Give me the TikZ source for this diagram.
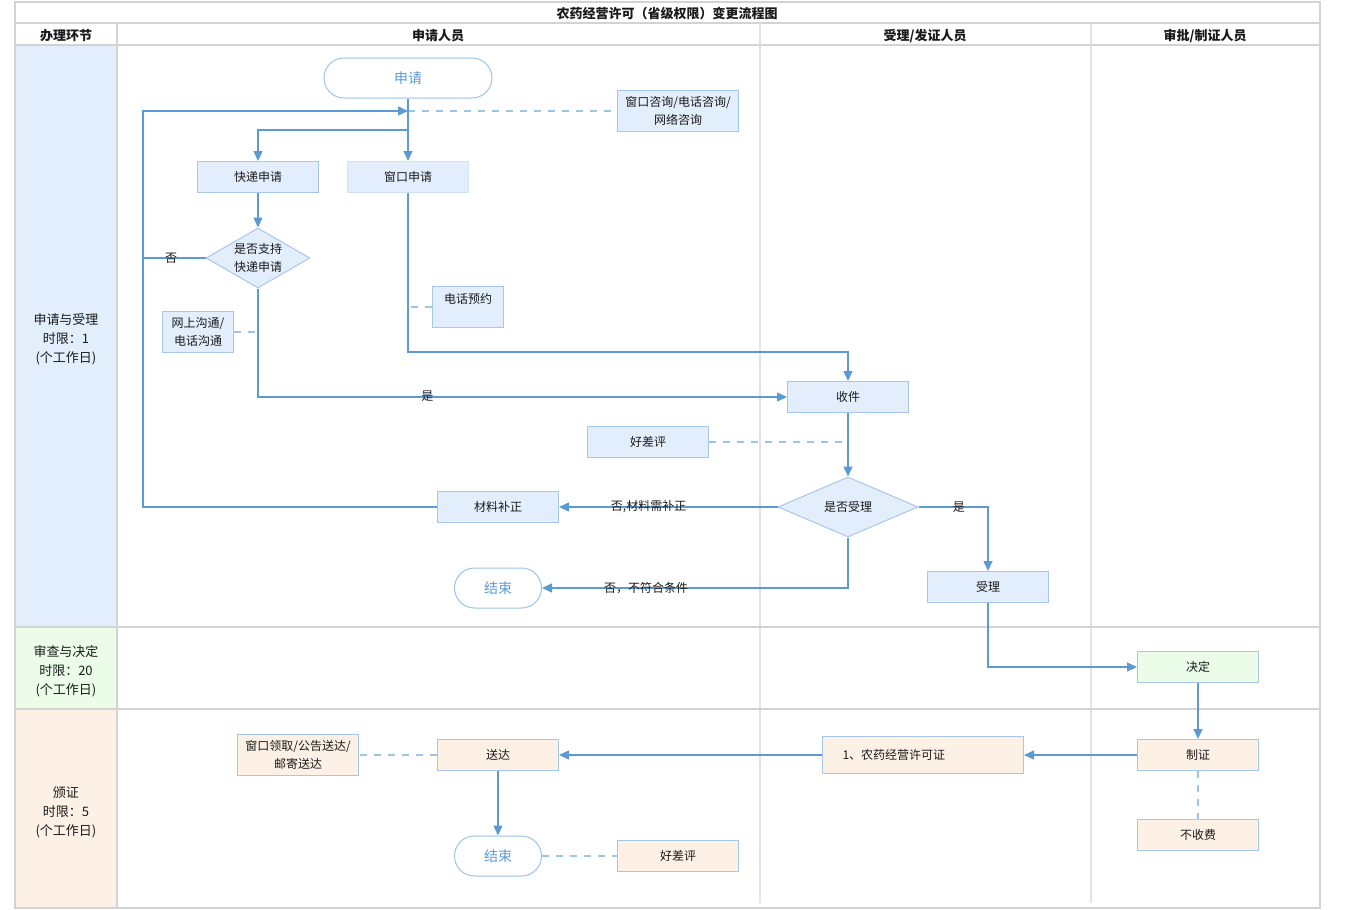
\documentclass[tikz,border=0pt]{standalone}
\usepackage{fontspec}
\setmainfont{Noto Sans CJK SC}
\usetikzlibrary{arrows.meta,shapes.geometric}
\definecolor{blueF}{HTML}{E3EEFD}
\definecolor{greenF}{HTML}{EBFDE9}
\definecolor{orangeF}{HTML}{FDF1E6}
\definecolor{boxB}{HTML}{A6C6EC}
\definecolor{flowC}{HTML}{5B9BD5}
\definecolor{dashC}{HTML}{9DC3E6}
\definecolor{gridC}{HTML}{D3D3D3}
\definecolor{gridL}{HTML}{E2E2E2}
\definecolor{txtC}{HTML}{1A1A1A}
\begin{document}
\begin{tikzpicture}[x=1pt,y=-1pt,
  every node/.style={inner sep=0pt,text=txtC},
  box/.style={rectangle,draw=boxB,line width=1pt,fill=blueF,minimum width=121pt,minimum height=31pt,align=center,font=\fontsize{12}{18}\selectfont},
  obox/.style={box,fill=orangeF},
  gbox/.style={box,fill=greenF},
  term/.style={rectangle,rounded corners=20pt,draw=dashC,line width=1pt,fill=white,minimum width=87pt,minimum height=40pt,text=flowC,font=\fontsize{14}{16}\selectfont},
  dia/.style={diamond,draw=boxB,line width=1pt,fill=blueF,align=center,font=\fontsize{12}{18}\selectfont},
  flow/.style={draw=flowC,line width=1.5pt,-{Triangle[length=10pt,width=9pt]}},
  plain/.style={draw=flowC,line width=1.5pt},
  dsh/.style={draw=dashC,line width=1.5pt,dash pattern=on 7pt off 7pt},
  grid/.style={draw=gridC,line width=2pt},
  gridl/.style={draw=gridL,line width=1.5pt},
  lbl/.style={font=\fontsize{12}{14}\selectfont},
  hdr/.style={font=\bfseries\fontsize{13}{15}\selectfont},
  lane/.style={align=center,font=\fontsize{13}{19}\selectfont}
]
\useasboundingbox (0,0) rectangle (1350,910);
% lane fills
\fill[blueF] (16,45) rectangle (117,627);
\fill[greenF] (16,627) rectangle (117,709);
\fill[orangeF] (16,709) rectangle (117,908);
% grid
\draw[gridl] (760,45) -- (760,903);
\draw[gridl] (1091,45) -- (1091,903);
\draw[grid] (15,2) rectangle (1320,908);
\draw[grid] (15,23) -- (1320,23);
\draw[grid] (15,45) -- (1320,45);
\draw[grid] (15,627) -- (1320,627);
\draw[grid] (15,709) -- (1320,709);
\draw[grid] (117,23) -- (117,908);
\draw[gridl] (760,23) -- (760,45);
\draw[gridl] (1091,23) -- (1091,45);
% headers
\node[hdr] (title) at (667,14) {农药经营许可（省级权限）变更流程图};
\node[hdr] (h1) at (66,36) {办理环节};
\node[hdr] (h2) at (438,36) {申请人员};
\node[hdr] (h3) at (925,36) {受理/发证人员};
\node[hdr] (h4) at (1205,36) {审批/制证人员};
\node[lane] (l1) at (66,339) {申请与受理\\时限：1\\(个工作日)};
\node[lane] (l2) at (66,671) {审查与决定\\时限：20\\(个工作日)};
\node[lane] (l3) at (66,812) {颁证\\时限：5\\(个工作日)};
% nodes
\node[term,minimum width=168pt] (start) at (408,78) {申请};
\node[box,minimum height=41pt] (zx) at (678,111) {窗口咨询/电话咨询/\\网络咨询};
\node[box] (kd) at (258,177) {快递申请};
\node[box,draw=blueF!70!boxB] (ck) at (408,177) {窗口申请};
\node[dia,aspect=1.73,minimum width=104pt,minimum height=60pt] (d1) at (258,258) {是否支持\\快递申请};
\node[box,minimum width=71pt,minimum height=41pt] (ws) at (198,332) {网上沟通/\\电话沟通};
\node[box,minimum width=71pt,minimum height=41pt] (dh) at (468,307) {电话预约\\~};
\node[box] (sj) at (848,397) {收件};
\node[box] (hp1) at (648,442) {好差评};
\node[dia,aspect=2.33,minimum width=140pt,minimum height=60pt] (d2) at (848,507) {是否受理};
\node[box] (bz) at (498,507) {材料补正};
\node[term] (end1) at (498,588) {结束};
\node[box] (sl) at (988,587) {受理};
\node[gbox] (jd) at (1198,667) {决定};
\node[obox] (zz) at (1198,755) {制证};
\node[obox] (bsf) at (1198,835) {不收费};
\node[obox,minimum width=201pt,minimum height=37pt,text width=161pt,align=left] (xkz) at (923,755) {1、农药经营许可证};
\node[obox] (sd) at (498,755) {送达};
\node[obox,minimum height=41pt] (lq) at (298,755) {窗口领取/公告送达/\\邮寄送达};
\node[term] (end2) at (498,856) {结束};
\node[obox] (hp2) at (678,856) {好差评};
\coordinate (j1) at (408,111);
\coordinate (j2) at (408,130);
\coordinate (lx) at (143,111);
% connectors
\draw[dsh] (j1) -- (zx.west);
\draw[flow] (start.south) -- (ck.north);
\draw[flow] (j2) -| (kd.north);
\draw[flow] (bz.west) -| (lx) -- (j1);
\draw[plain] (d1.west) -- (d1.west -| lx) node[lbl,pos=0.55] (no1) {否};
\draw[flow] (kd.south) -- (d1.north);
\draw[flow] (d1.south) |- (sj.west) node[lbl,pos=0.66,yshift=1pt] (yes1) {是};
\draw[dsh] (ws.east) -- (ws.east -| d1.south);
\draw[flow] (ck.south) -- ++(0,159) -| (sj.north);
\draw[dsh] (dh.west) -- (dh.west -| ck.south);
\draw[flow] (sj.south) -- (d2.north);
\draw[dsh] (hp1.east) -- (hp1.east -| sj.south);
\draw[flow] (d2.west) -- (bz.east) node[lbl,pos=0.59] (no2) {否,材料需补正};
\draw[flow] (d2.south) |- (end1.east) node[lbl,pos=0.83] (no3) {否，不符合条件};
\draw[flow] (d2.east) -| (sl.north) node[lbl,pos=0.29] (yes2) {是};
\draw[flow] (sl.south) |- (jd.west);
\draw[flow] (jd.south) -- (zz.north);
\draw[flow] (zz.west) -- (xkz.east);
\draw[flow] (xkz.west) -- (sd.east);
\draw[dsh] (zz.south) -- (bsf.north);
\draw[dsh] (sd.west) -- (lq.east);
\draw[flow] (sd.south) -- (end2.north);
\draw[dsh] (end2.east) -- (hp2.west);
\end{tikzpicture}
\end{document}
